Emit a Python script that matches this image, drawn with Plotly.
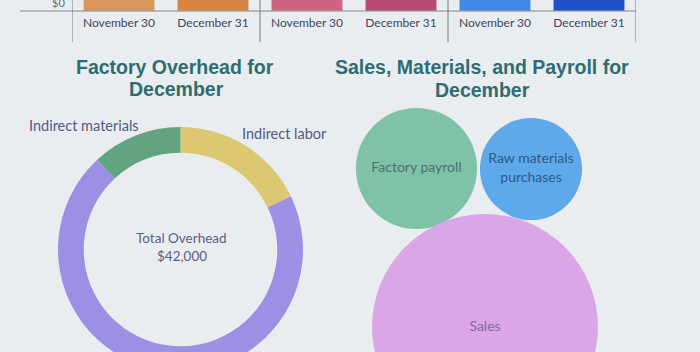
import plotly.graph_objects as go

W, H = 700, 380  # figure taller than the window: the donut and bubbles run past the bottom edge

# ---- data ----
periods = ["November 30", "December 31", "November 30", "December 31", "November 30", "December 31"]
inv_groups = ["Raw materials", "Raw materials", "Work in process", "Work in process",
              "Finished goods", "Finished goods"]
inv_values = [38000, 42000, 55000, 61000, 47000, 52000]  # bar tops are outside the visible area
y_tick_text = "$0"

overhead_labels = ["Indirect labor", "Other factory overhead", "Indirect materials"]
overhead_values = [7500, 29500, 5000]
overhead_total = 42000

bubble_labels = ["Factory payroll", "Raw materials<br>purchases", "Sales"]
bubble_values = [34500, 24500, 120000]

# ---- layout-only helpers ----
def py(y):  # page pixel (from top) -> paper
    return 1 - y / H

def px(x):
    return x / W

bar_colors = ["#db965d", "#d6843f", "#cc6680", "#b94b72", "#4288e4", "#2150c8"]
pie_colors = ["#dcc870", "#9d8fe3", "#62a382"]
bubble_colors = ["#80c2a8", "#5ea9e9", "#daa6e8"]
bubble_text_colors = ["#4d716e", "#2c5a8c", "#86699f"]
bubble_x = [416.5, 531, 485]
bubble_y = [168.5, 169, 327]
max_diam = 226

TITLE = dict(family="Liberation Sans", size=19.5, color="#2d6d72")
LBL = "#4f5a84"

fig = go.Figure()

# top inventory bars
fig.add_trace(go.Bar(
    x=list(range(len(periods))), y=inv_values, marker_color=bar_colors,
    width=0.76, xaxis="x", yaxis="y", showlegend=False,
    customdata=inv_groups, hoverinfo="skip"))

# donut
fig.add_trace(go.Pie(
    labels=overhead_labels, values=overhead_values, hole=0.79, sort=False,
    direction="clockwise", rotation=0, textinfo="none", showlegend=False,
    marker=dict(colors=pie_colors, line=dict(width=0)),
    domain=dict(x=[px(58), px(303)], y=[py(372), py(127)])))

# bubbles
fig.add_trace(go.Scatter(
    x=bubble_x, y=bubble_y, mode="markers+text", text=bubble_labels,
    textposition="middle center",
    textfont=dict(family="Lato", size=14, color=bubble_text_colors),
    marker=dict(size=bubble_values, sizemode="area",
                sizeref=2 * max(bubble_values) / max_diam ** 2,
                color=bubble_colors, line=dict(width=0), opacity=1),
    xaxis="x2", yaxis="y2", showlegend=False, cliponaxis=True, hoverinfo="skip"))

def ann(text, x, y, font, xanchor="center"):
    return dict(text=text, x=px(x), y=py(y), xref="paper", yref="paper", showarrow=False,
                xanchor=xanchor, yanchor="middle", font=font)

annotations = [
    ann("<b>Factory Overhead for</b>", 175, 67, TITLE),
    ann("<b>December</b>", 177, 89, TITLE),
    ann("<b>Sales, Materials, and Payroll for</b>", 481.5, 67, TITLE),
    ann("<b>December</b>", 482.5, 90, TITLE),
    ann("Indirect materials", 84, 125, dict(family="Lato", size=14.5, color=LBL)),
    ann("Indirect labor", 284, 133, dict(family="Lato", size=14.5, color=LBL)),
    ann("Total Overhead", 181, 238, dict(family="Lato", size=13.5, color="#5a5e82")),
    ann(f"${overhead_total:,}", 182, 256, dict(family="Lato", size=13.5, color="#5a5e82")),
    ann(y_tick_text, 67, 2, dict(family="Lato", size=11, color="#666b75"), xanchor="right"),
]

shapes = [
    dict(type="line", xref="paper", yref="paper", x0=px(20), x1=px(636), y0=py(11), y1=py(11),
         line=dict(color="#7f8790", width=1)),
]
for b in [-0.5, 1.5, 3.5, 5.5]:
    shapes.append(dict(type="line", xref="x", yref="paper", x0=b, x1=b, y0=py(42), y1=1,
                       line=dict(color="#737b84", width=1)))

fig.update_layout(
    width=W, height=H, margin=dict(l=0, r=0, t=0, b=0),
    paper_bgcolor="#eaedf0", plot_bgcolor="rgba(0,0,0,0)",
    annotations=annotations, shapes=shapes,
    xaxis=dict(domain=[px(72), px(636)], range=[-0.5, 5.5], tickvals=list(range(6)), ticktext=periods,
               showgrid=False, zeroline=False, showline=False, ticks="", ticklabelstandoff=3,
               tickfont=dict(family="Lato", size=12, color="#3a4660"), anchor="y", fixedrange=True),
    yaxis=dict(domain=[py(11), 1], range=[0, 1500], tickvals=[0], showticklabels=False, showgrid=False,
               zeroline=False, showline=False, ticks="", anchor="x"),
    xaxis2=dict(domain=[0.5, 1], range=[350, 700], visible=False, anchor="y2"),
    yaxis2=dict(domain=[0, py(100)], range=[H, 100], visible=False, anchor="x2"),
)

fig.write_html("out.html")
